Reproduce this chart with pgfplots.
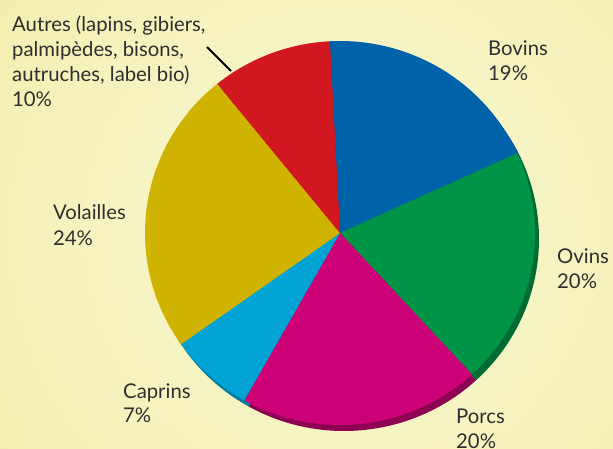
\documentclass[border=0pt]{standalone}
\usepackage{pgfplots}
\pgfplotsset{compat=1.18}
\usepackage{pgfplotstable}
\usepackage{fontspec}
\setmainfont{Lato}
\definecolor{c0}{HTML}{0062A8}
\definecolor{c1}{HTML}{009446}
\definecolor{c2}{HTML}{CC0077}
\definecolor{c3}{HTML}{00A3D3}
\definecolor{c4}{HTML}{CFB300}
\definecolor{c5}{HTML}{D1171F}
\definecolor{s0}{HTML}{004A80}
\definecolor{s1}{HTML}{006B33}
\definecolor{s2}{HTML}{8E0052}
\definecolor{s3}{HTML}{007EA3}
\definecolor{s4}{HTML}{9E8800}
\definecolor{s5}{HTML}{9E1016}
\definecolor{bgin}{HTML}{FAF8D6}
\definecolor{bgout}{HTML}{ECE68A}
\definecolor{txt}{HTML}{2E2E2E}
\pgfplotstableread{
name value
Bovins 19
Ovins 20
Porcs 20
Caprins 7
Volailles 24
Autres 10
}\piedata
\begin{document}
\begin{tikzpicture}[x=1pt,y=1pt]
\clip (0,0) rectangle (613,448);
\shade[inner color=bgin, outer color=bgout] (340,215) circle[radius=840];
\begin{axis}[at={(0,0)}, anchor=south west, scale only axis,
  width=613pt, height=448pt, xmin=0, xmax=613, ymin=0, ymax=448,
  hide axis, clip=false]
\addplot[draw=none] coordinates {(0,0) (613,448)};
\pgfplotsextra{
  % shadow
  \xdef\curang{93}
  \foreach \i in {0,...,5}{
    \pgfplotstablegetelem{\i}{value}\of\piedata
    \pgfmathsetmacro\endang{\curang-3.6*\pgfplotsretval}
    \fill[s\i] (axis cs:344,209) -- ++(\curang:195pt and 192pt)
      arc[start angle=\curang, end angle=\endang, x radius=195pt, y radius=192pt] -- cycle;
    \xdef\curang{\endang}
  }
  % slices
  \xdef\curang{93}
  \foreach \i in {0,...,5}{
    \pgfplotstablegetelem{\i}{value}\of\piedata
    \pgfmathsetmacro\endang{\curang-3.6*\pgfplotsretval}
    \fill[c\i] (axis cs:340,215) -- ++(\curang:195pt and 192pt)
      arc[start angle=\curang, end angle=\endang, x radius=195pt, y radius=192pt] -- cycle;
    \xdef\curang{\endang}
  }
}
\draw[black, line width=1.8pt] (axis cs:207,401) -- (axis cs:231,377);
\begin{scope}[every node/.style={anchor=base west, inner sep=0pt, text=txt, font=\fontsize{20.3}{25}\selectfont}]
\node at (axis cs:12,416) {Autres (lapins, gibiers,};
\node at (axis cs:12,391) {palmipèdes, bisons,};
\node at (axis cs:12,366) {autruches, label bio)};
\node at (axis cs:12,341) {10\%};
\node at (axis cs:488,392) {Bovins};
\node at (axis cs:488,367) {19\%};
\node at (axis cs:557,185) {Ovins};
\node at (axis cs:557,160) {20\%};
\node at (axis cs:456,25) {Porcs};
\node at (axis cs:456,0) {20\%};
\node at (axis cs:53,229) {Volailles};
\node at (axis cs:53,203) {24\%};
\node at (axis cs:123,50) {Caprins};
\node at (axis cs:123,26) {7\%};
\end{scope}
\end{axis}
\end{tikzpicture}
\end{document}
